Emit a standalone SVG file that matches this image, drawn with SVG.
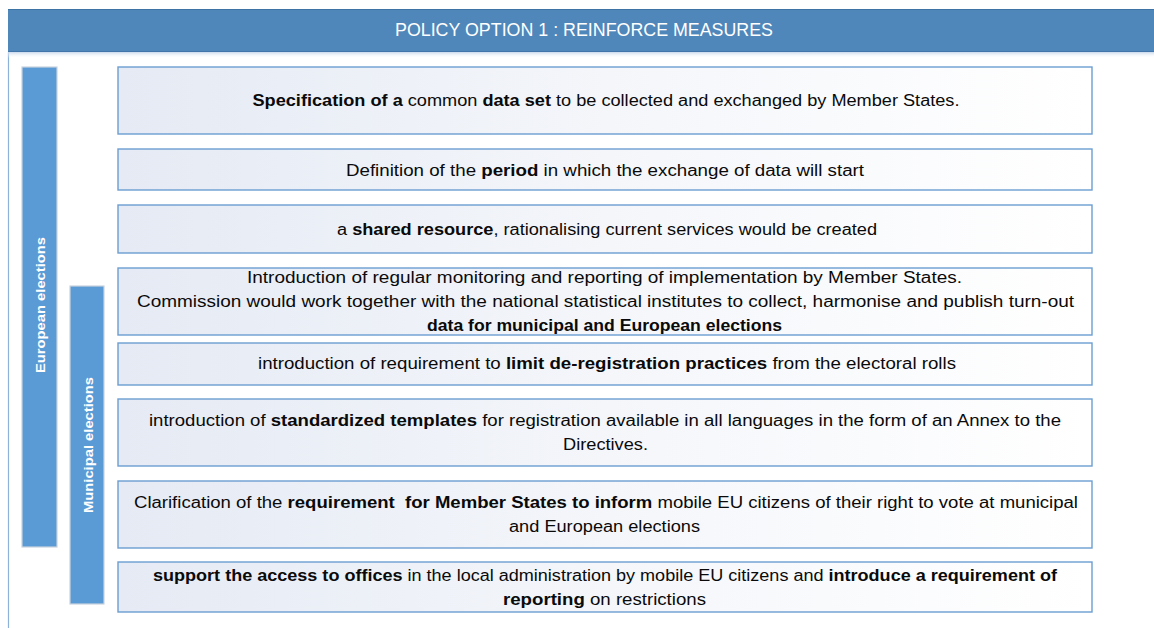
<svg xmlns="http://www.w3.org/2000/svg" width="1154" height="628" viewBox="0 0 1154 628">
<style>
.box{fill:url(#boxGrad);stroke:#6C9DD2;stroke-width:1.4}
.t{font-family:"Liberation Sans",Arial,sans-serif;font-size:16px;fill:#0a0a0a;text-anchor:middle}
.b{font-weight:bold}
.bar{fill:#5B9BD5;stroke:#C9D3DE;stroke-width:1.2}
.vt{font-family:"Liberation Sans",Arial,sans-serif;font-size:13px;font-weight:bold;fill:#fff;text-anchor:middle}
.hd{font-family:"Liberation Sans",Arial,sans-serif;font-size:17.5px;fill:#fff;text-anchor:middle}
</style>
<defs>
<linearGradient id="boxGrad" x1="0" y1="0" x2="1" y2="0">
<stop offset="0" stop-color="#E5EAF4"/>
<stop offset="0.5" stop-color="#F4F6FA"/>
<stop offset="1" stop-color="#FFFFFF"/>
</linearGradient>
<linearGradient id="shade" x1="0" y1="0" x2="0" y2="1">
<stop offset="0" stop-color="#C9D9EC"/>
<stop offset="1" stop-color="#FFFFFF" stop-opacity="0"/>
</linearGradient>
</defs>
<rect width="1154" height="628" fill="#FFFFFF"/>
<g id="frame">
<line x1="8.5" y1="52" x2="8.5" y2="628" stroke="#8DB2DA" stroke-width="1.2"/>
</g>
<g id="header">
<rect x="8" y="52" width="1146" height="6" fill="url(#shade)"/>
<rect x="8" y="9" width="1146" height="43" fill="#4F87BA"/>
<line x1="8" y1="9.5" x2="1154" y2="9.5" stroke="#3E73A6" stroke-width="1"/>
<line x1="8" y1="51.5" x2="1154" y2="51.5" stroke="#4276AA" stroke-width="1"/>
<text class="hd" x="584" y="36" textLength="378" lengthAdjust="spacingAndGlyphs">POLICY OPTION 1 : REINFORCE MEASURES</text>
</g>
<g id="european-elections">
<rect class="bar" x="22" y="67" width="35" height="480"/>
<text class="vt" transform="translate(45,305) rotate(-90)" textLength="136" lengthAdjust="spacingAndGlyphs">European elections</text>
</g>
<g id="municipal-elections">
<rect class="bar" x="70" y="286" width="34" height="318"/>
<text class="vt" transform="translate(93,445) rotate(-90)" textLength="136" lengthAdjust="spacingAndGlyphs">Municipal elections</text>
</g>
<g id="box1">
<rect class="box" x="118" y="67" width="974" height="67"/>
<text class="t" x="606" y="106" textLength="707" lengthAdjust="spacingAndGlyphs"><tspan class="b">Specification of a</tspan> common <tspan class="b">data set</tspan> to be collected and exchanged by Member States.</text>
</g>
<g id="box2">
<rect class="box" x="118" y="149" width="974" height="41"/>
<text class="t" x="605" y="176" textLength="518" lengthAdjust="spacingAndGlyphs">Definition of the <tspan class="b">period</tspan> in which the exchange of data will start</text>
</g>
<g id="box3">
<rect class="box" x="118" y="205" width="974" height="48"/>
<text class="t" x="607" y="235" textLength="540" lengthAdjust="spacingAndGlyphs">a <tspan class="b">shared resource</tspan>, rationalising current services would be created</text>
</g>
<g id="box4">
<rect class="box" x="118" y="268" width="974" height="67"/>
<text class="t" x="604.5" y="283" textLength="715" lengthAdjust="spacingAndGlyphs">Introduction of regular monitoring and reporting of implementation by Member States.</text>
<text class="t" x="605.5" y="307" textLength="937" lengthAdjust="spacingAndGlyphs">Commission would work together with the national statistical institutes to collect, harmonise and publish turn-out</text>
<text class="t b" x="604.5" y="331" textLength="355" lengthAdjust="spacingAndGlyphs">data for municipal and European elections</text>
</g>
<g id="box5">
<rect class="box" x="118" y="343" width="974" height="42"/>
<text class="t" x="607" y="369" textLength="698" lengthAdjust="spacingAndGlyphs">introduction of requirement to <tspan class="b">limit de-registration practices</tspan> from the electoral rolls</text>
</g>
<g id="box6">
<rect class="box" x="118" y="399" width="974" height="67"/>
<text class="t" x="605" y="426" textLength="912" lengthAdjust="spacingAndGlyphs">introduction of <tspan class="b">standardized templates</tspan> for registration available in all languages in the form of an Annex to the</text>
<text class="t" x="605.5" y="450" textLength="85" lengthAdjust="spacingAndGlyphs">Directives.</text>
</g>
<g id="box7">
<rect class="box" x="118" y="481" width="974" height="67"/>
<text class="t" x="606" y="508" textLength="944" lengthAdjust="spacingAndGlyphs" style="white-space:pre">Clarification of the <tspan class="b">requirement  for Member States to inform</tspan> mobile EU citizens of their right to vote at municipal</text>
<text class="t" x="604.5" y="532" textLength="191" lengthAdjust="spacingAndGlyphs">and European elections</text>
</g>
<g id="box8">
<rect class="box" x="118" y="562" width="974" height="50"/>
<text class="t" x="605" y="581" textLength="904" lengthAdjust="spacingAndGlyphs"><tspan class="b">support the access to offices</tspan> in the local administration by mobile EU citizens and <tspan class="b">introduce a requirement of</tspan></text>
<text class="t" x="604.5" y="605" textLength="203" lengthAdjust="spacingAndGlyphs"><tspan class="b">reporting</tspan> on restrictions</text>
</g>
<g id="connectors"></g>
</svg>
